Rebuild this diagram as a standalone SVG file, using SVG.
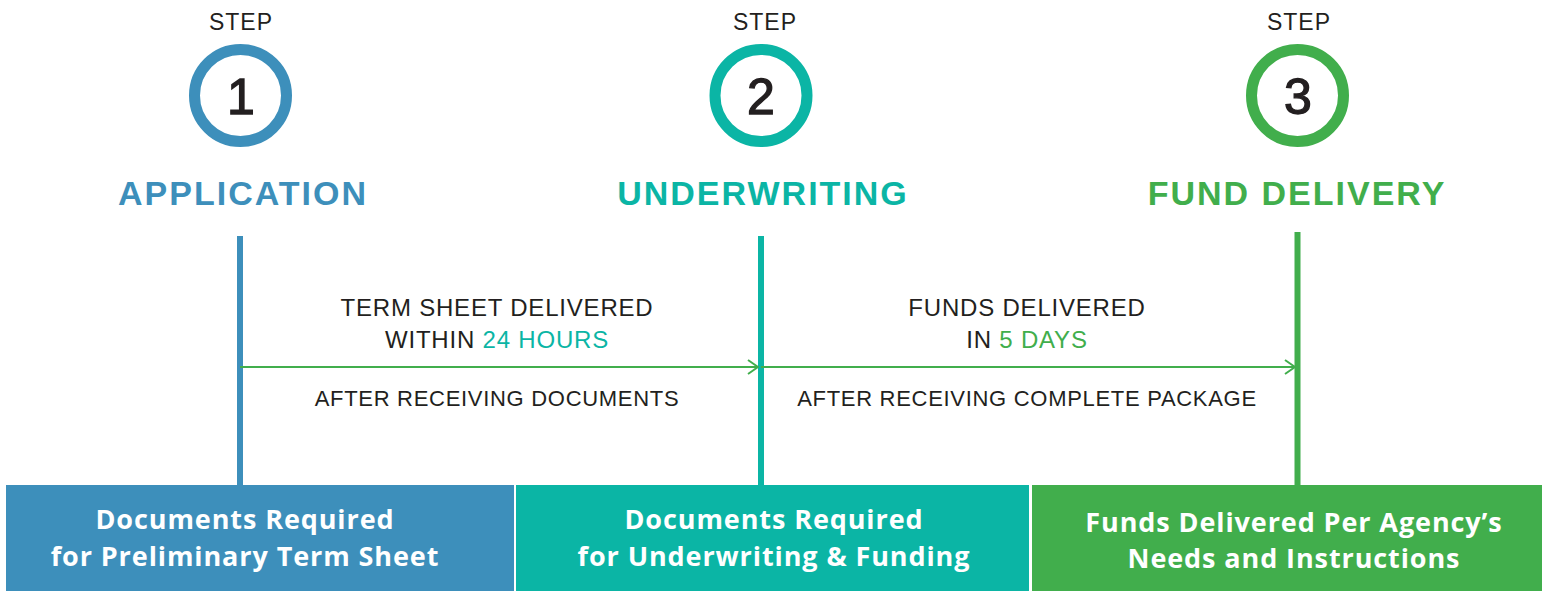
<svg xmlns="http://www.w3.org/2000/svg" width="1547" height="591" viewBox="0 0 1547 591">
<defs>
<style>
.step{font-family:"Liberation Sans",Arial,sans-serif;font-size:23px;fill:#231f20;text-anchor:middle;letter-spacing:1px}
.num{font-family:"Liberation Sans",Arial,sans-serif;font-size:50px;fill:#231f20;stroke:#231f20;stroke-width:1.3;text-anchor:middle}
.title{font-family:"Liberation Sans",Arial,sans-serif;font-size:34px;font-weight:bold;text-anchor:middle;letter-spacing:2px}
.mid{font-family:"Liberation Sans",Arial,sans-serif;font-size:24px;fill:#231f20;text-anchor:middle;letter-spacing:0.8px}
.small{font-family:"Liberation Sans",Arial,sans-serif;font-size:22px;fill:#231f20;text-anchor:middle;letter-spacing:0.7px}
.box{font-family:"Open Sans","Liberation Sans",Arial,sans-serif;font-size:27px;font-weight:bold;fill:#ffffff;text-anchor:middle;letter-spacing:0.9px}
.ring{fill:#ffffff;stroke-width:11}
</style>
<marker id="arr" viewBox="0 0 12 16" refX="11" refY="8" markerWidth="12" markerHeight="16" markerUnits="userSpaceOnUse" orient="auto">
<path d="M1,1 L11,8 L1,15" fill="none" stroke="#41ae4c" stroke-width="2"/>
</marker>
</defs>
<rect width="1547" height="591" fill="#ffffff"/>
<g id="connectors">
<line x1="240" y1="236" x2="240" y2="486" stroke="#3d8fbb" stroke-width="6"/>
<line x1="761" y1="236" x2="761" y2="486" stroke="#0bb5a5" stroke-width="6"/>
<line x1="1297.5" y1="232" x2="1297.5" y2="486" stroke="#41ae4c" stroke-width="6"/>
<line x1="240" y1="367" x2="758" y2="367" stroke="#41ae4c" stroke-width="2" marker-end="url(#arr)"/>
<line x1="761" y1="367" x2="1295" y2="367" stroke="#41ae4c" stroke-width="2" marker-end="url(#arr)"/>
<text class="mid" x="497" y="316">TERM SHEET DELIVERED</text>
<text class="mid" x="497" y="348">WITHIN <tspan fill="#0bb5a5">24 HOURS</tspan></text>
<text class="small" x="497" y="406">AFTER RECEIVING DOCUMENTS</text>
<text class="mid" x="1027" y="316">FUNDS DELIVERED</text>
<text class="mid" x="1027" y="348">IN <tspan fill="#41ae4c">5 DAYS</tspan></text>
<text class="small" x="1027" y="406">AFTER RECEIVING COMPLETE PACKAGE</text>
</g>
<g id="step1">
<text class="step" x="241" y="30">STEP</text>
<circle class="ring" cx="240.5" cy="95.5" r="46" stroke="#3d8fbb"/>
<text class="num" x="241" y="114">1</text>
<text class="title" x="243" y="205" fill="#3d8fbb">APPLICATION</text>
</g>
<g id="step2">
<text class="step" x="765" y="30">STEP</text>
<circle class="ring" cx="761" cy="95.5" r="46" stroke="#0bb5a5"/>
<text class="num" x="761" y="114">2</text>
<text class="title" x="763" y="205" fill="#0bb5a5">UNDERWRITING</text>
</g>
<g id="step3">
<text class="step" x="1299" y="30">STEP</text>
<circle class="ring" cx="1297.5" cy="95.5" r="46" stroke="#41ae4c"/>
<text class="num" x="1298" y="114">3</text>
<text class="title" x="1297" y="205" fill="#41ae4c">FUND DELIVERY</text>
</g>
<g id="box1">
<rect x="6" y="485" width="508" height="106" fill="#3d8fbb"/>
<text class="box" x="245" y="529">Documents Required</text>
<text class="box" x="245" y="566">for Preliminary Term Sheet</text>
</g>
<g id="box2">
<rect x="516" y="485" width="513" height="106" fill="#0bb5a5"/>
<text class="box" x="774" y="529">Documents Required</text>
<text class="box" x="774" y="566">for Underwriting &amp; Funding</text>
</g>
<g id="box3">
<rect x="1032" y="485" width="510" height="106" fill="#41ae4c"/>
<text class="box" x="1294" y="532">Funds Delivered Per Agency’s</text>
<text class="box" x="1294" y="568">Needs and Instructions</text>
</g>
</svg>
